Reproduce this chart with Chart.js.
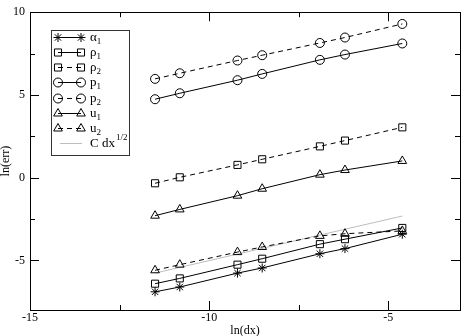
<!DOCTYPE html>
<html>
<head>
<meta charset="utf-8">
<script src="https://cdn.jsdelivr.net/npm/chart.js@4/dist/chart.umd.min.js"></script>
<style>
  html, body { margin: 0; padding: 0; background: #fff; }
</style>
</head>
<body>
<canvas id="c" width="466" height="336"></canvas>
<script>
// ln(dx) for dx = 1e-5 ... 1e-2
const lnDx = [-11.51, -10.82, -9.21, -8.52, -6.91, -6.21, -4.61]

const alpha1 = [-6.90, -6.61, -5.77, -5.46, -4.60, -4.29, -3.42]
const rho1 = [-6.41, -6.09, -5.26, -4.90, -4.02, -3.72, -3.04]
const rho2 = [-0.34, 0.02, 0.77, 1.11, 1.89, 2.24, 3.04]
const p1 = [4.74, 5.10, 5.89, 6.27, 7.12, 7.44, 8.11]
const p2 = [5.97, 6.31, 7.08, 7.40, 8.14, 8.47, 9.29]
const u1 = [-2.30, -1.92, -1.09, -0.67, 0.18, 0.46, 1.01]
const u2 = [-5.60, -5.26, -4.50, -4.19, -3.52, -3.39, -3.22]

// reference slope line C dx^1/2
const refX = [-11.51, -4.61]
const refY = [-5.77, -2.32]

const xTickLabels = [-15, -10, -5]
const yTickLabels = [-5, 0, 5, 10]

const black = '#000'
const clear = 'rgba(0,0,0,0)'
const grey = '#bdbdbd'
const dash = [5, 4]
const serif = "'Liberation Serif', 'DejaVu Serif', serif"

const pts = (xs, ys) => xs.map((x, i) => ({ x, y: ys[i] }))

const series = (label, ys, style, radius, dashed) => ({
  label,
  data: pts(lnDx, ys),
  borderColor: black,
  borderWidth: 1,
  borderDash: dashed ? dash : [],
  pointStyle: style,
  pointRadius: radius,
  pointBorderColor: black,
  pointBackgroundColor: clear,
  pointBorderWidth: 1,
  showLine: true,
  fill: false,
})

const datasets = [
  series('α_1', alpha1, 'star', 4.5, false),
  series('ρ_1', rho1, 'rect', 5, false),
  series('ρ_2', rho2, 'rect', 5, true),
  series('p_1', p1, 'circle', 4.5, false),
  series('p_2', p2, 'circle', 4.5, true),
  series('u_1', u1, 'triangle', 5, false),
  series('u_2', u2, 'triangle', 5, true),
  {
    label: 'C dx^1/2',
    data: pts(refX, refY),
    borderColor: grey,
    borderWidth: 1,
    pointRadius: 0,
    showLine: true,
    fill: false,
  },
]

// box round the plot plus inward ticks on all four sides
const frame = {
  id: 'frame',
  afterDraw(chart) {
    const { ctx, chartArea: a, scales: { x, y } } = chart
    ctx.save()
    ctx.strokeStyle = black
    ctx.lineWidth = 1
    ctx.strokeRect(Math.round(a.left) + 0.5, Math.round(a.top) + 0.5,
      Math.round(a.right - a.left), Math.round(a.bottom - a.top))
    ctx.beginPath()
    x.ticks.forEach(t => {
      if (t.value % 2.5 !== 0) return
      const len = xTickLabels.includes(t.value) ? 9 : 5
      const px = Math.round(x.getPixelForValue(t.value)) + 0.5
      ctx.moveTo(px, a.bottom); ctx.lineTo(px, a.bottom - len)
      ctx.moveTo(px, a.top); ctx.lineTo(px, a.top + len)
    })
    y.ticks.forEach(t => {
      if (t.value % 2.5 !== 0) return
      const len = yTickLabels.includes(t.value) ? 9 : 5
      const py = Math.round(y.getPixelForValue(t.value)) + 0.5
      ctx.moveTo(a.left, py); ctx.lineTo(a.left + len, py)
      ctx.moveTo(a.right, py); ctx.lineTo(a.right - len, py)
    })
    ctx.stroke()
    ctx.restore()
  }
}

// boxed legend inside the plot, a marker at each end of the sample line
const boxLegend = {
  id: 'boxLegend',
  afterDraw(chart) {
    const ctx = chart.ctx
    const bx = 51, by = 30, bw = 78, bh = 125
    const rowTop = 36.5, rowStep = 15.25
    const x0 = 58, x1 = 81, tx = 90
    ctx.save()
    ctx.fillStyle = '#fff'
    ctx.fillRect(bx, by, bw, bh)
    ctx.strokeStyle = '#333'
    ctx.lineWidth = 1
    ctx.strokeRect(bx + 0.5, by + 0.5, bw, bh)

    chart.data.datasets.forEach((ds, i) => {
      const yy = Math.round(rowTop + i * rowStep) + 0.5
      ctx.strokeStyle = ds.borderColor
      ctx.lineWidth = 1
      ctx.setLineDash(ds.borderDash || [])
      ctx.beginPath()
      ctx.moveTo(ds.pointRadius ? x0 : x0 + 2, yy)
      ctx.lineTo(ds.pointRadius ? x1 : x1 + 1, yy)
      ctx.stroke()
      ctx.setLineDash([])
      if (ds.pointRadius) {
        ctx.fillStyle = clear
        ctx.strokeStyle = black
        const opts = { pointStyle: ds.pointStyle, radius: ds.pointRadius, rotation: 0, borderWidth: 1 }
        Chart.helpers.drawPoint(ctx, opts, x0, yy)
        Chart.helpers.drawPoint(ctx, opts, x1, yy)
      }
      // label with sub/superscript
      ctx.fillStyle = black
      ctx.textBaseline = 'middle'
      ctx.textAlign = 'left'
      let main = ds.label, sub = '', sup = ''
      if (main.includes('_')) [main, sub] = main.split('_')
      if (main.includes('^')) [main, sup] = main.split('^')
      ctx.font = '13px ' + serif
      ctx.fillText(main, tx, yy)
      const w = ctx.measureText(main).width
      ctx.font = '9px ' + serif
      if (sub) ctx.fillText(sub, tx + w, yy + 4)
      if (sup) ctx.fillText(sup, tx + w + 1, yy - 6)
    })
    ctx.restore()
  }
}

new Chart(document.getElementById('c'), {
  type: 'scatter',
  data: { datasets },
  options: {
    responsive: false,
    animation: false,
    layout: { padding: { top: 6, right: 3, left: 0, bottom: 0 } },
    plugins: {
      legend: { display: false },
      tooltip: { enabled: false },
    },
    scales: {
      x: {
        type: 'linear',
        min: -15,
        max: -3,
        afterFit: s => { s.height = 26 },
        grid: { display: false, drawTicks: false },
        border: { display: false },
        ticks: {
          stepSize: 2.5,
          autoSkip: false,
          maxRotation: 0,
          padding: 1,
          color: black,
          font: { family: serif, size: 12 },
          callback: v => xTickLabels.includes(v) ? v : '',
        },
        title: {
          display: true,
          text: 'ln(dx)',
          color: black,
          padding: { top: 0, bottom: -2 },
          font: { family: serif, size: 12 },
        },
      },
      y: {
        type: 'linear',
        min: -8,
        max: 10,
        afterFit: s => { s.width = 30 },
        grid: { display: false, drawTicks: false },
        border: { display: false },
        ticks: {
          stepSize: 2.5,
          autoSkip: false,
          padding: 5,
          color: black,
          font: { family: serif, size: 12 },
          callback: v => yTickLabels.includes(v) ? v : '',
        },
        title: {
          display: true,
          text: 'ln(err)',
          color: black,
          padding: 0,
          font: { family: serif, size: 12, lineHeight: 1 },
        },
      },
    },
  },
  plugins: [frame, boxLegend],
})
</script>
</body>
</html>
